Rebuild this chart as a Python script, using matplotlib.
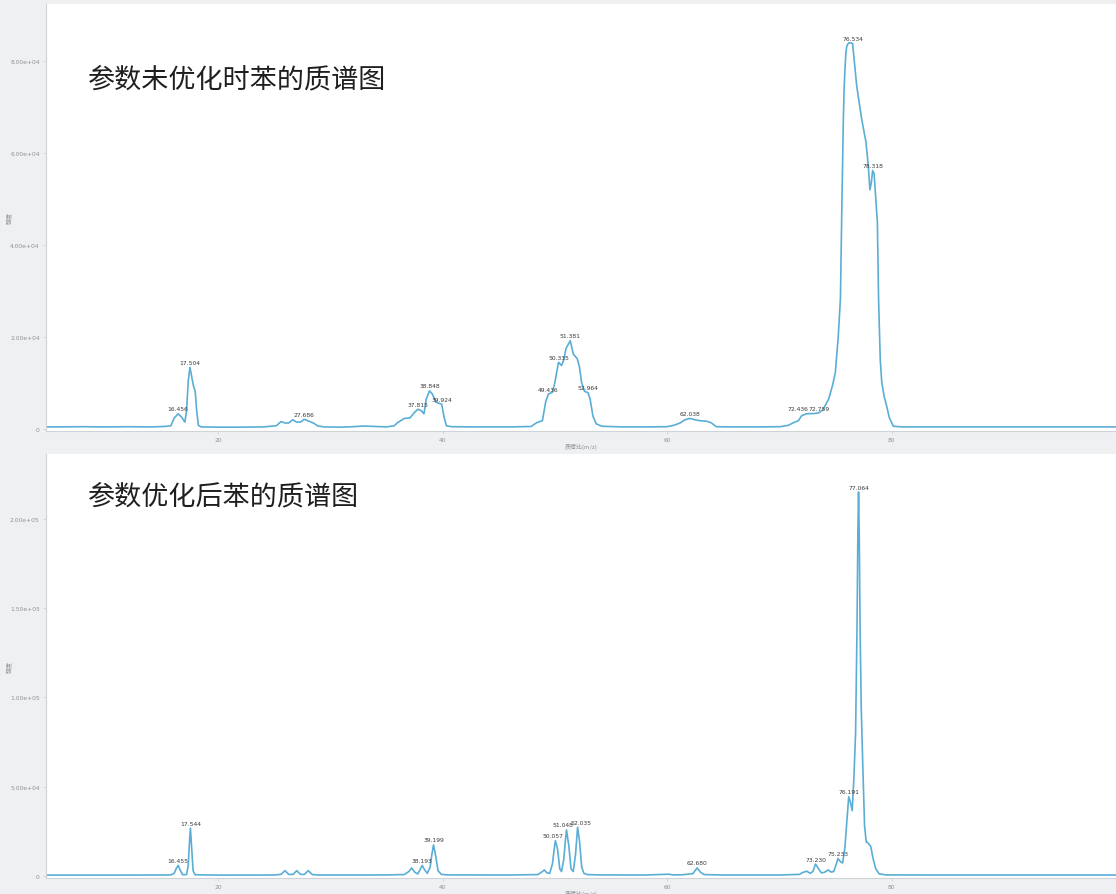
import numpy as np
import matplotlib
matplotlib.use("Agg")
import matplotlib.pyplot as plt
from matplotlib.ticker import FixedLocator, FuncFormatter

plt.rcParams['font.family'] = ['DejaVu Sans', 'Noto Sans CJK SC']

# ---- spectrum before parameter optimisation (m/z, intensity) ----
top_mz = [4.7, 8.0, 10.0, 12.0, 14.0, 15.2, 15.8, 16.1, 16.456, 16.75, 17.05, 17.2, 17.35,
          17.504, 17.65, 17.8, 17.97, 18.1, 18.25, 18.5, 20.0, 22.0, 24.0, 25.2, 25.6,
          26.0, 26.3, 26.65, 27.0, 27.35, 27.686, 28.1, 28.5, 28.9, 29.5, 31.0, 32.0,
          33.0, 34.0, 35.0, 35.7, 36.0, 36.6, 37.1, 37.5, 37.815, 38.1, 38.35, 38.55,
          38.848, 39.1, 39.42, 39.924, 40.15, 40.35, 40.8, 43.0, 46.0, 47.9, 48.4, 48.9,
          49.2, 49.436, 49.8, 50.0, 50.335, 50.6, 50.8, 51.0, 51.381, 51.65, 52.0, 52.2,
          52.4, 52.65, 52.964, 53.15, 53.4, 53.7, 54.2, 56.0, 58.0, 60.0, 60.6, 61.16,
          61.6, 62.038, 62.5, 62.94, 63.5, 63.9, 64.4, 66.0, 68.0, 70.1, 70.8, 71.3,
          71.7, 72.0, 72.436, 72.759, 73.1, 73.5, 73.9, 74.4, 74.75, 75.0, 75.26, 75.45,
          75.56, 75.71, 75.78, 75.85, 75.93, 76.0, 76.1, 76.25, 76.534, 76.9, 77.34,
          77.73, 77.93, 78.08, 78.2, 78.318, 78.45, 78.6, 78.74, 78.85, 79.0, 79.13,
          79.35, 79.57, 79.8, 80.16, 81.0, 85.0, 90.0, 95.0, 100.0]
top_intensity = [450, 500, 450, 500, 450, 550, 700, 2400, 3300, 2600, 1500, 4000, 10500,
                 13400, 11500, 9500, 8200, 4000, 800, 450, 400, 400, 450, 700, 1600,
                 1300, 1300, 2000, 1500, 1500, 2100, 1700, 1300, 650, 450, 400, 500,
                 650, 550, 450, 700, 1400, 2300, 2400, 3600, 4300, 4000, 3300, 6500,
                 8300, 7600, 5800, 5400, 2500, 700, 500, 450, 450, 550, 1400, 1800,
                 6000, 7600, 8000, 10000, 14500, 13800, 15000, 17500, 19200, 16300, 15300, 13500,
                 10000, 8200, 7900, 6500, 2800, 1100, 600, 450, 450, 500, 800, 1300,
                 2000, 2300, 2000, 1800, 1700, 1400, 500, 450, 450, 500, 800, 1400,
                 1800, 2900, 3300, 3350, 3350, 3500, 4200, 6500, 9500, 12300, 20300, 28300,
                 45600, 67400, 74000, 78000, 81500, 83000, 83700, 84000, 83800, 74600, 67400,
                 62300, 57200, 52000, 53500, 56200, 55500, 50000, 45000, 28000, 15000, 10200,
                 7000, 5000, 2500, 600, 450, 450, 450, 450, 450]
top_labels = [16.456, 17.504, 27.686, 37.815, 38.848, 39.924, 49.436, 50.335, 51.381,
              52.964, 62.038, 72.436, 72.759, 76.534, 78.318]

# ---- spectrum after parameter optimisation (m/z, intensity) ----
bottom_mz = [4.7, 10.0, 14.0, 15.8, 16.1, 16.3, 16.455, 16.65, 16.85, 17.2, 17.35, 17.45,
             17.544, 17.65, 17.78, 17.95, 20.0, 25.0, 25.6, 25.97, 26.3, 26.7, 27.01,
             27.35, 27.7, 28.04, 28.4, 29.0, 33.0, 35.0, 36.6, 37.0, 37.25, 37.55, 37.8,
             38.0, 38.193, 38.4, 38.65, 38.9, 39.05, 39.199, 39.4, 39.6, 39.9, 40.5, 46.0,
             48.5, 48.9, 49.07, 49.3, 49.55, 49.8, 49.95, 50.057, 50.25, 50.45, 50.6, 50.8,
             50.95, 51.048, 51.25, 51.45, 51.65, 51.85, 52.035, 52.2, 52.4, 52.6, 52.9,
             54.0, 58.0, 60.2, 60.5, 61.4, 61.8, 62.3, 62.68, 63.0, 63.3, 65.0, 70.0,
             71.8, 72.1, 72.45, 72.75, 73.0, 73.23, 73.5, 73.75, 74.0, 74.37, 74.6, 74.85,
             75.1, 75.233, 75.45, 75.65, 75.85, 76.05, 76.191, 76.35, 76.5, 76.65, 76.8,
             76.93, 77.0, 77.064, 77.13, 77.2, 77.3, 77.45, 77.6, 77.75, 77.85, 78.15,
             78.35, 78.6, 78.9, 79.5, 85.0, 100.0]
bottom_intensity = [500, 500, 550, 600, 1500, 4500, 5900, 3000, 700, 800, 6000, 18000,
                    26800, 16000, 3000, 700, 500, 550, 900, 3000, 900, 900, 3000,
                    900, 900, 3000, 800, 550, 550, 600, 800, 2500, 4500, 2000, 1200,
                    3500, 5900, 3500, 1500, 5000, 12000, 17400, 11000, 3000, 900, 600, 550,
                    800, 2500, 3400, 1800, 1500, 7000, 15000, 19800, 15000, 4000, 2500, 9000,
                    20000, 25800, 17000, 4000, 2500, 12000, 27300, 20000, 5000, 1500, 800,
                    600, 550, 1000, 600, 700, 1000, 1300, 4500, 2000, 800, 550, 550,
                    900, 2000, 2700, 1500, 2500, 6700, 4000, 1800, 2000, 3400, 2200, 2500,
                    7000, 9800, 8000, 7300, 16000, 33000, 44400, 41000, 36600, 55000, 80000,
                    140000, 190000, 215000, 190000, 140000, 95000, 60000, 28000, 19000, 18900,
                    16600, 10000, 4000, 1200, 600, 550, 550]
bottom_labels = [16.455, 17.544, 38.193, 39.199, 50.057, 51.048, 52.035, 62.680,
                 73.230, 75.233, 76.191, 77.064]

x_ticks = [20, 40, 60, 80]
top_y_ticks = [0, 20000, 40000, 60000, 80000]
bottom_y_ticks = [0, 50000, 100000, 150000, 200000]

titles = ["参数未优化时苯的质谱图", "参数优化后苯的质谱图"]
x_label = "质荷比(m/z)"
y_label = "强度"

# small offsets (points) for labels of closely spaced peaks
label_nudge = {72.436: (-6.5, 1.8), 72.759: (6.5, 1.8),
               51.048: (-2.5, 1.8), 52.035: (2.5, 1.8), 50.057: (-1.5, 1.8)}

# ---- styling ----
W, H = 1116, 895
panel_bg = "#eff0f2"
line_color = "#5aaed6"
axis_color = "#cfd2d6"
tick_text = "#8e9296"
small_font = 4.3
cjk = ['Noto Sans CJK SC', 'DejaVu Sans']

fig = plt.figure(figsize=(W / 100, H / 100), dpi=100, facecolor=panel_bg)


def px_axes(left, top, right, bottom):
    return fig.add_axes([left / W, 1 - bottom / H, (right - left) / W, (bottom - top) / H])


def tick_fmt(v, _pos):
    if v == 0:
        return "0"
    return f"{v:.2e}"


def draw_panel(ax, mz, inten, labels, yticks, ylim):
    ax.set_facecolor("white")
    ax.plot(mz, inten, color=line_color, lw=1.2, solid_joinstyle="round")
    ax.set_xlim(4.677, 100.0)
    ax.set_ylim(*ylim)
    for s in ("top", "right"):
        ax.spines[s].set_visible(False)
    for s in ("left", "bottom"):
        ax.spines[s].set_color(axis_color)
        ax.spines[s].set_linewidth(0.8)
    ax.xaxis.set_major_locator(FixedLocator(x_ticks))
    ax.yaxis.set_major_locator(FixedLocator(yticks))
    ax.yaxis.set_major_formatter(FuncFormatter(tick_fmt))
    ax.tick_params(axis="both", colors=axis_color, labelcolor=tick_text,
                   labelsize=small_font, length=2.5, width=0.6, pad=2)
    ax.set_xlabel(x_label, family=cjk, fontsize=small_font, color=tick_text, labelpad=0.5)
    ax.set_ylabel(y_label, family=cjk, fontsize=small_font, color=tick_text)
    ax.yaxis.set_label_coords(-34 / 1070, 0.5)
    mz_arr = np.asarray(mz)
    for m in labels:
        i = int(np.argmin(np.abs(mz_arr - m)))
        ax.annotate(f"{m:.3f}", (m, inten[i]), xytext=label_nudge.get(m, (0, 1.8)),
                    textcoords="offset points", ha="center", va="bottom",
                    fontsize=small_font, color="#3a3a3a")


ax_top = px_axes(46, 5, 1116, 432)
draw_panel(ax_top, top_mz, top_intensity, top_labels, top_y_ticks, (-435, 92400))

ax_bot = px_axes(46, 455, 1116, 879)
draw_panel(ax_bot, bottom_mz, bottom_intensity, bottom_labels, bottom_y_ticks, (-1120, 236300))

# chart titles placed inside each plot area
fig.text(88 / W, 1 - 80 / H, titles[0], family=cjk, fontsize=19.5, color="#1f1f1f",
         ha="left", va="center")
fig.text(88 / W, 1 - 497 / H, titles[1], family=cjk, fontsize=19.5, color="#1f1f1f",
         ha="left", va="center")

fig.savefig("out.png", dpi=100, facecolor=panel_bg)
